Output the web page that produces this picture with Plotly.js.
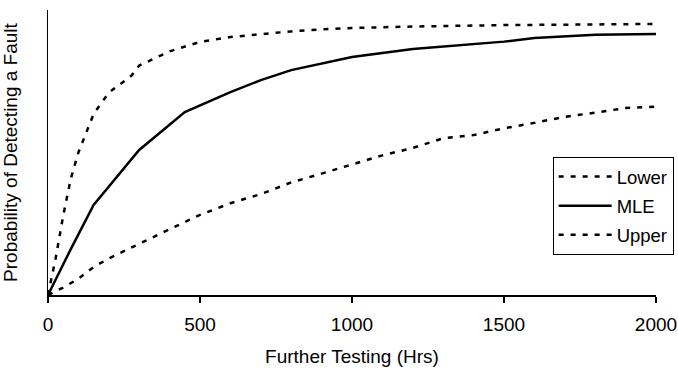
<!DOCTYPE html>
<html>
<head>
<meta charset="utf-8">
<script src="https://cdn.plot.ly/plotly-3.0.1.min.js"></script>
<style>html,body{margin:0;padding:0;background:#fff;}#chart{width:678px;height:370px;}</style>
</head>
<body>
<div id="chart"></div>
<script>
// Further testing hours and probability estimates
var lowerHours = [0, 50, 100, 150, 200, 250, 300, 400, 500, 600, 700, 800, 900, 1000, 1100, 1200, 1300, 1400, 1500, 1600, 1700, 1800, 1900, 2000];
var lowerProb  = [0, 0.026, 0.057, 0.098, 0.128, 0.154, 0.180, 0.231, 0.281, 0.322, 0.354, 0.395, 0.426, 0.459, 0.490, 0.516, 0.550, 0.561, 0.585, 0.604, 0.625, 0.640, 0.656, 0.661];

var mleHours = [0, 75, 150, 300, 450, 600, 700, 800, 1000, 1200, 1500, 1600, 1800, 1900, 2000];
var mleProb  = [0, 0.161, 0.316, 0.509, 0.642, 0.712, 0.754, 0.789, 0.835, 0.863, 0.889, 0.902, 0.913, 0.915, 0.916];

var upperHours = [0, 25, 50, 75, 100, 150, 200, 250, 275, 300, 400, 500, 600, 700, 800, 900, 1000, 1200, 1500, 2000];
var upperProb  = [0, 0.128, 0.278, 0.408, 0.500, 0.635, 0.710, 0.752, 0.770, 0.805, 0.855, 0.888, 0.905, 0.915, 0.925, 0.932, 0.937, 0.942, 0.947, 0.951];

var xTicks = [0, 500, 1000, 1500, 2000];

var font = {family: 'Liberation Sans, Arial, sans-serif', size: 19, color: '#000'};
var legendFont = {family: 'Liberation Sans, Arial, sans-serif', size: 18.5, color: '#000'};

var traces = [
  {x: lowerHours, y: lowerProb, name: 'Lower', mode: 'lines', legendgroup: 'a',
   line: {color: '#000', width: 2.5, dash: '5px,7px'}},
  {x: mleHours, y: mleProb, name: 'MLE', mode: 'lines', legendgroup: 'b',
   line: {color: '#000', width: 2.5}},
  {x: upperHours, y: upperProb, name: 'Upper', mode: 'lines', legendgroup: 'c',
   line: {color: '#000', width: 2.5, dash: '5px,7px'}}
];

var layout = {
  width: 678, height: 370,
  margin: {l: 48, r: 22, t: 10, b: 75, autoexpand: false},
  paper_bgcolor: '#fff', plot_bgcolor: '#fff',
  font: font,
  showlegend: true,
  legend: {
    x: 0.83, y: 0.484, xanchor: 'left', yanchor: 'top',
    bgcolor: '#fff', bordercolor: '#000', borderwidth: 1,
    font: legendFont, itemwidth: 53, tracegroupgap: 2
  },
  xaxis: {
    range: [0, 2000], tickvals: xTicks, ticktext: xTicks.map(String),
    automargin: false,
    showgrid: false, zeroline: false, showline: true, linecolor: '#000', linewidth: 1.5,
    ticks: 'outside', ticklen: 6, tickwidth: 1.5, tickcolor: '#000',
    ticklabelstandoff: 6,
    tickfont: font,
    title: {text: 'Further Testing (Hrs)', font: font}
  },
  yaxis: {
    range: [0, 1], showgrid: false, zeroline: false, showline: true, automargin: false,
    linecolor: '#000', linewidth: 1.5, showticklabels: false, ticks: '',
    title: {text: 'Probability of Detecting a Fault', font: font}
  }
};

Plotly.newPlot('chart', traces, layout, {staticPlot: true, displayModeBar: false});
</script>
</body>
</html>
